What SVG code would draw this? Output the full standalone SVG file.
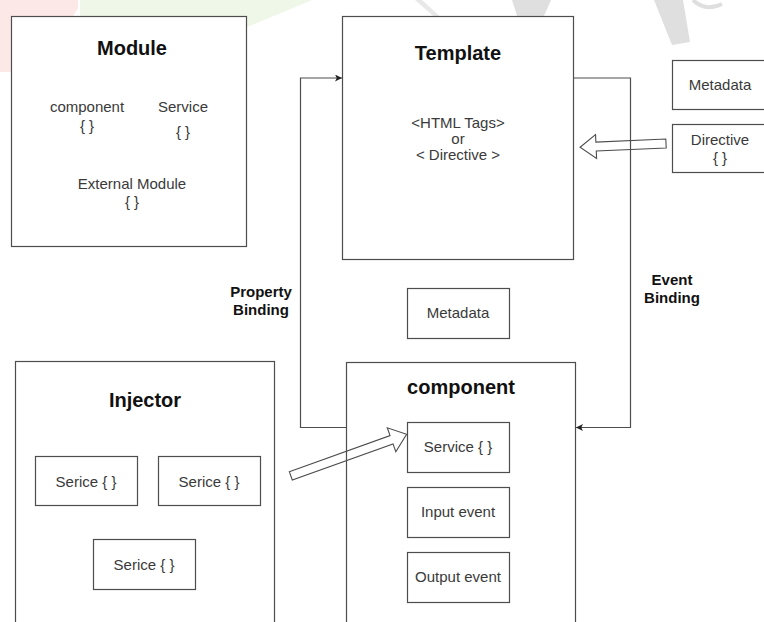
<svg xmlns="http://www.w3.org/2000/svg" width="764" height="622" viewBox="0 0 764 622">
<defs>
<style>
.box{fill:#fff;stroke:#4d4d4d;stroke-width:1.2}
.t{font-family:"Liberation Sans",Arial,sans-serif;font-size:15px;fill:#3a3a3a;text-anchor:middle}
.h{font-family:"Liberation Sans",Arial,sans-serif;font-size:20px;font-weight:bold;fill:#111;text-anchor:middle}
.lb{font-family:"Liberation Sans",Arial,sans-serif;font-size:15px;font-weight:bold;fill:#111;text-anchor:middle}
.ln{fill:none;stroke:#4d4d4d;stroke-width:1.2}
.blk{fill:none;stroke:#4d4d4d;stroke-width:1.1;stroke-linejoin:miter}
</style>
<marker id="ah" viewBox="0 0 10 10" refX="10" refY="5" markerWidth="7" markerHeight="7" markerUnits="userSpaceOnUse" orient="auto">
<path d="M0,0 L10,5 L0,10 L2.5,5 Z" fill="#222"/>
</marker>
</defs>
<rect width="764" height="622" fill="#fff"/>
<g id="watermark" opacity="0.9">
<polygon points="0,0 78,0 78,8 40,72 0,72" fill="#fde6e6"/>
<polygon points="80,0 312,0 161,63 80,63" fill="#eef7e6"/>
<polygon points="415,0 422,0 444,20 440,22" fill="#e6e6e6"/>
<polygon points="512,0 551,0 540,25 520,25" fill="#dcdcdc"/>
<polygon points="654,0 683,0 690,42 672,45" fill="#dcdcdc"/>
<path d="M693,0 Q705,12 722,4" fill="none" stroke="#dcdcdc" stroke-width="4"/>
</g>
<g id="module">
<rect class="box" x="11.5" y="16.5" width="235" height="230"/>
<text class="h" x="132" y="55">Module</text>
<text class="t" x="87" y="112">component</text>
<text class="t" x="87" y="131">{ }</text>
<text class="t" x="183" y="112">Service</text>
<text class="t" x="183" y="137">{ }</text>
<text class="t" x="132" y="189">External Module</text>
<text class="t" x="132" y="207">{ }</text>
</g>
<g id="template">
<rect class="box" x="342.5" y="16.5" width="231" height="243"/>
<text class="h" x="458" y="60">Template</text>
<text class="t" x="458" y="128">&lt;HTML Tags&gt;</text>
<text class="t" x="458" y="144">or</text>
<text class="t" x="458" y="160">&lt; Directive &gt;</text>
</g>
<g id="metadata-top">
<rect class="box" x="672.5" y="60.5" width="100" height="49"/>
<text class="t" x="720" y="90">Metadata</text>
</g>
<g id="directive">
<rect class="box" x="672.5" y="124.5" width="100" height="48"/>
<text class="t" x="720" y="145">Directive</text>
<text class="t" x="720" y="163">{ }</text>
</g>
<g id="metadata-mid">
<rect class="box" x="407.5" y="288.5" width="102" height="50"/>
<text class="t" x="458" y="318">Metadata</text>
</g>
<g id="component">
<rect class="box" x="346.5" y="362.5" width="229" height="270"/>
<text class="h" x="461" y="394">component</text>
</g>
<g id="comp-service">
<rect class="box" x="407.5" y="422.5" width="102" height="50"/>
<text class="t" x="458" y="452">Service { }</text>
</g>
<g id="input-event">
<rect class="box" x="407.5" y="487.5" width="102" height="50"/>
<text class="t" x="458" y="517">Input event</text>
</g>
<g id="output-event">
<rect class="box" x="407.5" y="552.5" width="102" height="50"/>
<text class="t" x="458" y="582">Output event</text>
</g>
<g id="injector">
<rect class="box" x="15.5" y="361.5" width="259" height="270"/>
<text class="h" x="145" y="407">Injector</text>
</g>
<g id="serice-1">
<rect class="box" x="35.5" y="456.5" width="102" height="49"/>
<text class="t" x="86" y="487">Serice { }</text>
</g>
<g id="serice-2">
<rect class="box" x="158.5" y="456.5" width="102" height="49"/>
<text class="t" x="209" y="487">Serice { }</text>
</g>
<g id="serice-3">
<rect class="box" x="93.5" y="539.5" width="102" height="50"/>
<text class="t" x="144" y="570">Serice { }</text>
</g>
<g id="connectors">
<path class="ln" d="M346,427.5 L300.5,427.5 L300.5,78 L342,78" marker-end="url(#ah)"/>
<path class="ln" d="M574,78 L630.5,78 L630.5,427.5 L576,427.5" marker-end="url(#ah)"/>
<g transform="translate(666,143.5) rotate(177.5)">
<polygon class="blk" points="0,-4.5 70,-4.5 70,-12 86,0 70,12 70,4.5 0,4.5"/>
</g>
<g transform="translate(290.8,475.8) rotate(-19.7)">
<polygon class="blk" points="0,-4.4 107,-4.4 107,-12.7 123,0 107,12.7 107,4.4 0,4.4"/>
</g>
<text class="lb" x="261" y="297">Property</text>
<text class="lb" x="261" y="315">Binding</text>
<text class="lb" x="672" y="285">Event</text>
<text class="lb" x="672" y="303">Binding</text>
</g>
</svg>
